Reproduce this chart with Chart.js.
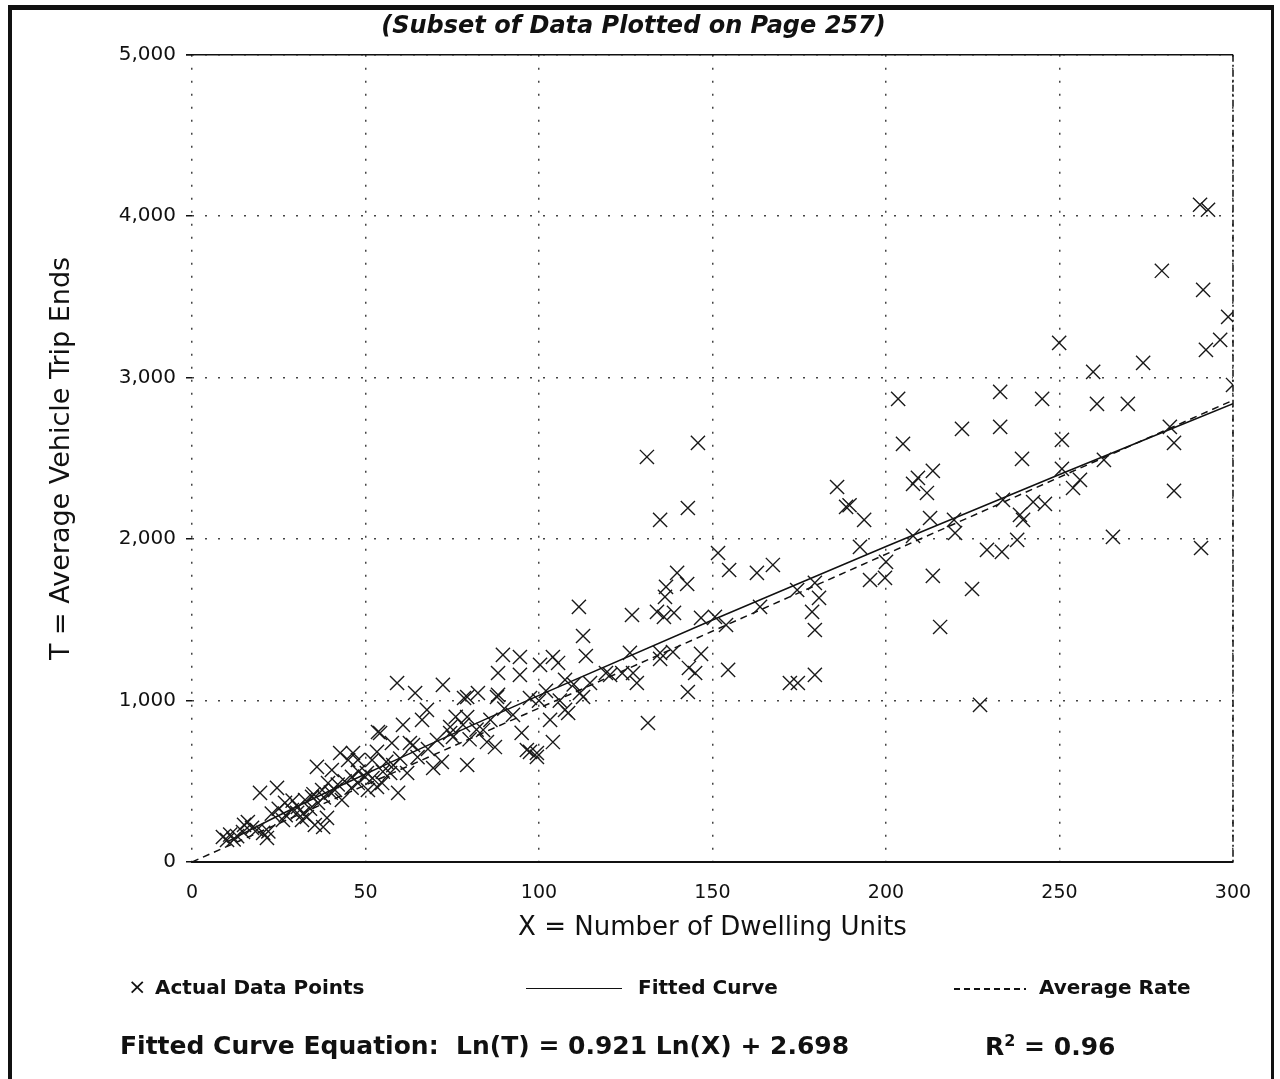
<!DOCTYPE html>
<html>
<head>
<meta charset="utf-8">
<script src="https://cdn.jsdelivr.net/npm/chart.js@4.4.0/dist/chart.umd.min.js"></script>
<style>
  body { margin: 0; background: #fff; font-family: 'DejaVu Sans', sans-serif; color: #111; }
  #wrap { position: relative; width: 1280px; height: 1079px; overflow: hidden; }
  #frame { position: absolute; left: 8px; top: 5px; width: 1259px; height: 1100px;
           border-top: 5px solid #111; border-left: 4px solid #111; border-right: 3px solid #111; }
  canvas { position: absolute; left: 0; top: 0; }
  .lg { position: absolute; font-weight: bold; font-size: 20px; white-space: nowrap; }
  .eq { position: absolute; font-weight: bold; font-size: 25px; white-space: nowrap; }
  .dash { position: absolute; height: 1.5px;
          background: repeating-linear-gradient(90deg, #111 0 6px, transparent 6px 10px); }
</style>
</head>
<body>
<div id="wrap">
  <div id="frame"></div>
  <canvas id="chart" width="1280" height="1079"></canvas>
  <div class="lg" style="left:128px; top:974px; font-weight:normal; font-size:22px;">×</div>
  <div class="lg" style="left:155px; top:975px;">Actual Data Points</div>
  <div style="position:absolute; left:526px; top:988px; width:96px; border-top:1.5px solid #111;"></div>
  <div class="lg" style="left:638px; top:975px;">Fitted Curve</div>
  <div class="dash" style="left:954px; top:988px; width:72px;"></div>
  <div class="lg" style="left:1039px; top:975px;">Average Rate</div>
  <div class="eq" style="left:120px; top:1031px;">Fitted Curve Equation:&nbsp; Ln(T) = 0.921 Ln(X) + 2.698</div>
  <div class="eq" style="left:985px; top:1031px;">R<sup style="font-size:16px;">2</sup> = 0.96</div>
</div>
<script>
// actual data points: X = dwelling units, T = trip ends
var xs = [8.9, 10.1, 11, 12, 13, 14.7, 15, 16.1, 17.3, 18.7, 19.6, 20.5, 21.6, 22, 23, 24.5, 25, 26.2, 26.8, 27,
  28.8, 29, 30.3, 30.5, 31.7, 32, 32.6, 33.1, 34, 34.6, 35, 35.4, 36, 36.3, 37.5, 37.8, 38, 38.9, 39.2, 40,
  40.3, 41.2, 42, 42.7, 43.2, 44, 45, 46, 46.1, 46.4, 47.8, 47.8, 48, 49.9, 50.4, 50.7, 51.9, 52, 53.3, 53.3,
  53.6, 54.2, 54.8, 55, 56, 57.1, 57.6, 58, 59.1, 59.4, 60,
  60.8, 62, 62.8, 63.7, 64.3, 65, 66.3, 67.7, 68, 69.5, 70.6, 72, 72.3, 74.4, 74.4, 75.2, 76, 78.1, 78.4, 79.3,
  79.3, 79.3, 80, 82, 82.4, 83.9, 85, 86, 87.3, 87.9, 88.2, 88.2, 89.6, 90, 92.5, 94.5, 94.5, 95, 96.5, 97.4,
  97.4, 99.4, 99.4, 100, 100.3, 102, 103.2, 104, 104, 105.5, 106, 107.5, 107.5, 108.4, 110, 111.5, 111.8, 112.7, 112.7, 113.5,
  114.7,
  119.3, 120.5, 124, 126.2, 126.8, 127.1, 128.2, 131.1, 131.4, 134, 134.9, 134.9, 134.9, 136, 136.3, 136.6, 138.6, 138.9, 139.8, 142.7,
  142.9, 142.9, 143.2, 145, 145.8, 146.7, 146.7, 150.7, 151.6, 153.9, 154.5, 154.8, 162.8, 163.7, 167.4,
  172.3, 174.6, 174.4, 178.7, 179.5, 179.5, 179.5, 180.7, 185.9, 188.5, 189.5, 192.5, 193.7, 195.4, 199.7, 200, 203.5, 204.9, 207.8, 207.8,
  209.2, 211.8, 212.7, 213.5, 213.5, 215.6, 219.6, 219.9, 221.9, 224.8, 227.1, 229.1, 232.9, 232.9, 233.4, 233.7, 237.8, 238.6, 239.2, 239.5,
  242.4, 245, 245.8, 249.9, 250.7, 250.7, 253.9, 255.9, 259.7, 260.8, 262.8, 265.4, 269.7, 274.1, 279.5, 281.8, 283, 283, 290.5, 292.8,
  290.8, 291.4, 292.2, 296.3, 298.6, 300];
var ys = [155, 136, 170, 140, 160, 186, 230, 248, 211, 198, 428, 180, 149, 190, 300, 459, 330, 260, 366, 290,
  322, 380, 304, 341, 260, 300, 384, 279, 330, 403, 420, 229, 589, 366, 446, 217, 400, 273, 489, 430,
  570, 446, 480, 675, 384, 500, 632, 460, 527, 675, 632, 489, 560, 527, 551, 446, 632, 520, 465, 682,
  805, 799, 489, 560, 620, 551, 737, 600, 1109, 428, 640,
  849, 551, 737, 725, 1047, 650, 880, 942, 700, 582, 756, 620, 1097, 836, 799, 774, 900, 849, 1016, 1022,
  898, 601, 760, 820, 1047, 818, 743, 880, 712, 1022, 1171, 1035, 1283, 950, 911, 1270, 1159, 800, 694, 682,
  1016, 675, 651, 1000, 1221, 1060, 880, 743, 1270, 1233, 1000, 1128, 942, 923, 1100, 1580, 1047, 1022, 1400, 1276,
  1109,
  1171, 1159, 1170, 1295, 1530, 1171, 1109, 2509, 861, 1549, 2119, 1295, 1258, 1518, 1642, 1704, 1301, 1543, 1791, 1722,
  2193, 1053, 1202, 1171, 2596, 1512, 1289, 1518, 1914, 1468, 1190, 1809, 1791, 1580, 1840,
  1109, 1109, 1685, 1549, 1729, 1437, 1159, 1636, 2323, 2200, 2210, 1952, 2119, 1747, 1760, 1859, 2869, 2590, 2342, 2020,
  2379, 2286, 2131, 2423, 1772, 1456, 2119, 2038, 2683, 1691, 973, 1933, 2912, 2695, 1921, 2243, 1995, 2150, 2497, 2119,
  2230, 2869, 2218, 3216, 2615, 2435, 2317, 2367, 3036, 2838, 2491, 2014, 2838, 3092, 3662, 2695, 2596, 2299, 4071, 4040,
  1945, 3544, 3172, 3234, 3377, 2955];

// fitted curve and average rate (dashed line)
var fitX = [10, 25, 50, 100, 150, 200, 250, 300];
var fitY = [124, 288, 545, 1032, 1499, 1954, 2400, 2839];
var avgX = [0, 300];
var avgY = [0, 2860];

var xTicks = [0, 50, 100, 150, 200, 250, 300];
var yTicks = [0, 1000, 2000, 3000, 4000, 5000];

function pairs(a, b) { return a.map((v, i) => ({x: v, y: b[i]})); }

Chart.defaults.font.family = "'DejaVu Sans', sans-serif";
Chart.defaults.color = '#111';

// solid top edge and dash-dot right edge of the plot box
var frameLines = {
  id: 'frameLines',
  afterDatasetsDraw(chart) {
    var a = chart.chartArea, ctx = chart.ctx;
    ctx.save();
    ctx.strokeStyle = '#111';
    ctx.lineWidth = 1.5;
    ctx.beginPath();
    ctx.moveTo(a.left - 6, a.top);
    ctx.lineTo(a.right, a.top);
    ctx.stroke();
    ctx.setLineDash([7, 3, 2, 3]);
    ctx.beginPath();
    ctx.moveTo(a.right, a.top);
    ctx.lineTo(a.right, a.bottom);
    ctx.stroke();
    ctx.restore();
  }
};

new Chart(document.getElementById('chart').getContext('2d'), {
  type: 'scatter',
  data: {
    datasets: [
      { label: 'Actual Data Points', data: pairs(xs, ys), pointStyle: 'crossRot', pointRadius: 10,
        pointBorderWidth: 1.4, borderColor: '#1a1a1a', backgroundColor: '#1a1a1a' },
      { label: 'Fitted Curve', data: pairs(fitX, fitY), showLine: true, pointRadius: 0,
        borderColor: '#111', borderWidth: 1.5, cubicInterpolationMode: 'monotone' },
      { label: 'Average Rate', data: pairs(avgX, avgY), showLine: true, pointRadius: 0,
        borderColor: '#111', borderWidth: 1.5, borderDash: [7, 5] }
    ]
  },
  options: {
    responsive: false,
    animation: false,
    devicePixelRatio: 1,
    layout: { padding: { left: 34, right: 47, top: 0, bottom: 135 } },
    plugins: {
      legend: { display: false },
      tooltip: { enabled: false },
      title: { display: true, text: '(Subset of Data Plotted on Page 257)',
        font: { size: 24, weight: 'bold', style: 'italic' }, padding: { top: 12, bottom: 14 }, color: '#111' }
    },
    scales: {
      x: {
        type: 'linear', min: 0, max: 300,
        afterBuildTicks: s => { s.ticks = xTicks.map(v => ({value: v})); },
        afterFit: s => { s.height = 82; },
        ticks: { font: { size: 19 }, padding: 20, color: '#111' },
        grid: { color: '#444', lineWidth: 1.5, drawTicks: false },
        border: { display: true, color: '#111', width: 2, dash: [2, 11] },
        title: { display: true, text: 'X = Number of Dwelling Units', font: { size: 26 }, padding: 0, color: '#111' }
      },
      y: {
        type: 'linear', min: 0, max: 5000,
        afterBuildTicks: s => { s.ticks = yTicks.map(v => ({value: v})); },
        afterFit: s => { s.width = 158; },
        ticks: { font: { size: 20 }, padding: 10, color: '#111', callback: v => v.toLocaleString('en-US') },
        grid: { color: '#444', lineWidth: 1.5, drawTicks: true, tickLength: 6, tickColor: '#111', tickWidth: 1.5 },
        border: { display: false, dash: [2, 11] },
        title: { display: true, text: 'T = Average Vehicle Trip Ends', font: { size: 27 }, padding: { top: 12, bottom: 0 }, color: '#111' }
      }
    }
  },
  plugins: [frameLines]
});
</script>
</body>
</html>
